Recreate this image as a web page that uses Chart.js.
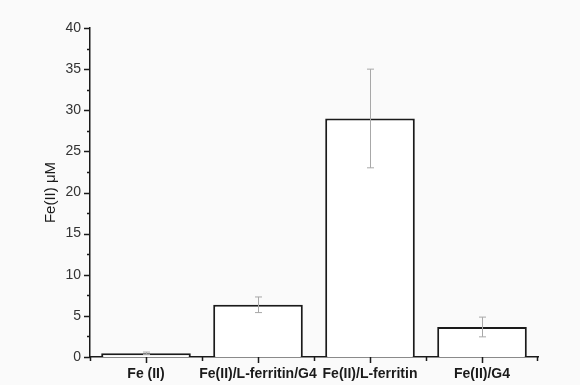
<!DOCTYPE html>
<html>
<head>
<meta charset="utf-8">
<script src="https://cdn.jsdelivr.net/npm/chart.js@4/dist/chart.umd.min.js"></script>
<style>
  html, body { margin: 0; padding: 0; background: #fafafa; }
  #wrap { width: 580px; height: 385px; position: relative; }
</style>
</head>
<body>
<div id="wrap"><canvas id="c"></canvas></div>
<script>
// Fe(II) concentration per sample, with standard deviation
const categories = ['Fe (II)', 'Fe(II)/L-ferritin/G4', 'Fe(II)/L-ferritin', 'Fe(II)/G4'];
const means = [0.45, 6.35, 29.0, 3.65];
const errors = [0.15, 0.95, 6.0, 1.2];
const yTicks = [0, 5, 10, 15, 20, 25, 30, 35, 40];

const AXIS = '#1a1a1a';

// Error bars plus the axis tick marks (major and minor)
const decorations = {
  id: 'decorations',
  afterDatasetsDraw(chart) {
    const ctx = chart.ctx;
    const x = chart.scales.x, y = chart.scales.y;
    ctx.save();
    // error bars
    ctx.strokeStyle = '#a8a8a8';
    ctx.lineWidth = 1;
    means.forEach((m, i) => {
      const px = x.getPixelForValue(i);
      const top = y.getPixelForValue(m + errors[i]);
      const bot = y.getPixelForValue(m - errors[i]);
      ctx.beginPath();
      ctx.moveTo(px + 0.5, top); ctx.lineTo(px + 0.5, bot);
      ctx.moveTo(px - 3, top); ctx.lineTo(px + 4, top);
      ctx.moveTo(px - 3, bot); ctx.lineTo(px + 4, bot);
      ctx.stroke();
    });
    // y tick marks: majors at labels, minors halfway
    ctx.strokeStyle = AXIS;
    ctx.lineWidth = 1.5;
    const ax = chart.chartArea.left;
    ctx.beginPath();
    yTicks.forEach((v, i) => {
      const py = Math.round(y.getPixelForValue(v)) + 0.5;
      ctx.moveTo(ax, py); ctx.lineTo(ax - 6, py);
      if (i < yTicks.length - 1) {
        const pm = Math.round(y.getPixelForValue(v + 2.5)) + 0.5;
        ctx.moveTo(ax, pm); ctx.lineTo(ax - 3, pm);
      }
    });
    // x tick marks: majors at categories, minors at boundaries
    const ay = chart.chartArea.bottom;
    categories.forEach((c, i) => {
      const px = Math.round(x.getPixelForValue(i)) + 0.5;
      ctx.moveTo(px, ay); ctx.lineTo(px, ay + 6);
      const pb = Math.round(x.getPixelForValue(i - 0.5)) + 0.5;
      ctx.moveTo(pb, ay); ctx.lineTo(pb, ay + 4);
    });
    const pe = Math.round(x.getPixelForValue(categories.length - 0.5)) - 0.5;
    ctx.moveTo(pe, ay); ctx.lineTo(pe, ay + 4);
    ctx.stroke();
    ctx.restore();
  }
};

new Chart(document.getElementById('c'), {
  type: 'bar',
  data: {
    labels: categories,
    datasets: [{
      data: means,
      backgroundColor: '#ffffff',
      borderColor: AXIS,
      borderWidth: 2,
      borderSkipped: 'bottom',
      categoryPercentage: 0.8,
      barPercentage: 1.0
    }]
  },
  options: {
    responsive: true,
    maintainAspectRatio: false,
    animation: false,
    layout: { padding: { top: 28, right: 42, left: 0, bottom: 0 } },
    plugins: { legend: { display: false }, tooltip: { enabled: false } },
    scales: {
      x: {
        offset: true,
        grid: { display: false },
        border: { display: true, color: AXIS, width: 1.5 },
        ticks: {
          color: '#1a1a1a',
          padding: 1,
          maxRotation: 0,
          autoSkip: false,
          font: { family: 'Liberation Sans, Arial, sans-serif', size: 14, weight: 'bold' }
        },
        afterFit(s) { s.height = 28; }
      },
      y: {
        min: 0,
        max: 40,
        afterBuildTicks(s) { s.ticks = yTicks.map(v => ({ value: v })); },
        grid: { display: false },
        border: { display: true, color: AXIS, width: 1.5 },
        ticks: {
          color: '#333333',
          padding: 1,
          font: { family: 'Liberation Sans, Arial, sans-serif', size: 14 }
        },
        title: {
          display: true,
          text: 'Fe(II) μM',
          color: '#1a1a1a',
          padding: { top: 42, bottom: 0 },
          font: { family: 'Liberation Sans, Arial, sans-serif', size: 15 }
        },
        afterFit(s) { s.width = 90; }
      }
    }
  },
  plugins: [decorations]
});
</script>
</body>
</html>
